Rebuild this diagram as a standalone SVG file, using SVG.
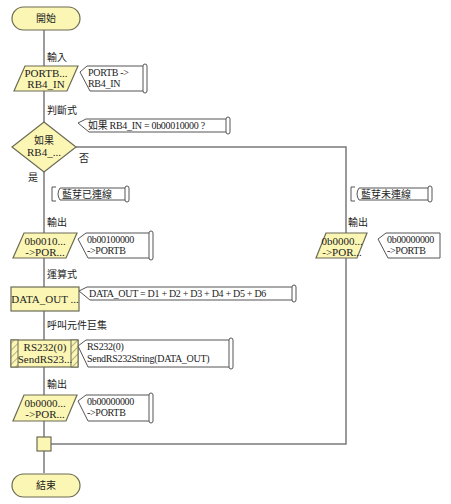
<svg xmlns="http://www.w3.org/2000/svg" width="451" height="504" viewBox="0 0 451 504">
  <style>
    .shape { fill: #fbf6b4; stroke: #6b6b55; stroke-width: 1.2; }
    .note { fill: #ffffff; stroke: #555555; stroke-width: 1; }
    .scroll { fill: #ffffff; stroke: #555555; stroke-width: 1; }
    .wire { fill: none; stroke: #7a7a7a; stroke-width: 1.5; }
    .lbl { font-family: "Noto Sans CJK TC", "Noto Sans CJK SC", sans-serif; font-size: 10px; fill: #222222; }
    .txt { font-family: "Liberation Serif", "Noto Sans CJK TC", serif; font-size: 11px; fill: #222222; text-anchor: middle; }
    .ntxt { font-family: "Liberation Serif", "Noto Sans CJK TC", serif; font-size: 10px; fill: #222222; letter-spacing: -0.3px; }
    .cjk { font-family: "Noto Sans CJK TC", "Noto Sans CJK SC", sans-serif; font-size: 10px; fill: #222222; }
  </style>
  <defs>
    <pattern id="hatch" patternUnits="userSpaceOnUse" width="5" height="5" patternTransform="rotate(45)">
      <rect width="5" height="5" fill="#fbf6b4"/>
      <line x1="0" y1="0" x2="0" y2="5" stroke="#6b6b55" stroke-width="1"/>
    </pattern>
  </defs>

  <!-- connectors -->
  <g id="connectors">
    <line class="wire" x1="44" y1="30" x2="44" y2="473"/>
    <polyline class="wire" points="76,147 346,147 346,444 51,444"/>
  </g>

  <!-- start -->
  <g id="start">
    <rect class="shape" x="12" y="7" width="68" height="23" rx="11.5"/>
    <text class="cjk" x="46" y="22" text-anchor="middle">開始</text>
  </g>

  <!-- input -->
  <g id="input">
    <text class="lbl" x="47" y="61">輸入</text>
    <polygon class="shape" points="25,66 78,66 67,91 14,91"/>
    <text class="txt" x="46" y="77">PORTB...</text>
    <text class="txt" x="46" y="88">RB4_IN</text>
    <path class="note" d="M87,66 L145,66 L145,91 L90,91 L80,72 Z"/>
    <rect class="scroll" x="143" y="64" width="4" height="29" rx="2"/>
    <text class="ntxt" x="88" y="76">PORTB -&gt;</text>
    <text class="ntxt" x="88" y="87">RB4_IN</text>
  </g>

  <!-- decision -->
  <g id="decision">
    <text class="lbl" x="47" y="114">判斷式</text>
    <path class="note" d="M86,119 L228,119 L228,132 L89,132 L78,123 Z"/>
    <rect class="scroll" x="226" y="117" width="4" height="17" rx="2"/>
    <text class="ntxt" x="88" y="129">如果 RB4_IN = 0b00010000 ?</text>
    <polygon class="shape" points="44,122 76,147 44,172 12,147"/>
    <text class="cjk" x="44" y="144" text-anchor="middle">如果</text>
    <text class="txt" x="44" y="156">RB4_...</text>
    <text class="lbl" x="79" y="162">否</text>
    <text class="lbl" x="28" y="181">是</text>
  </g>

  <!-- comment: connected -->
  <g id="note-yes">
    <path class="wire" d="M56,187 L52,187 L52,201 L56,201" style="stroke:#555555;stroke-width:1"/>
    <path class="note" d="M60,188 L127,188 L127,200 L60,200 Q56,194 60,188 Z"/>
    <rect class="scroll" x="125" y="186" width="4" height="16" rx="2"/>
    <text class="cjk" x="62" y="198">藍芽已連線</text>
  </g>

  <!-- output 1 -->
  <g id="output1">
    <text class="lbl" x="47" y="226">輸出</text>
    <polygon class="shape" points="24,233 77,233 66,258 13,258"/>
    <text class="txt" x="45" y="245">0b0010...</text>
    <text class="txt" x="45" y="256">-&gt;POR...</text>
    <path class="note" d="M86,233 L151,233 L151,258 L88,258 L78,239 Z"/>
    <rect class="scroll" x="149" y="231" width="4" height="29" rx="2"/>
    <text class="ntxt" x="87" y="243">0b00100000</text>
    <text class="ntxt" x="87" y="254">-&gt;PORTB</text>
  </g>

  <!-- calculation -->
  <g id="calc">
    <text class="lbl" x="47" y="278">運算式</text>
    <rect class="shape" x="11" y="287" width="68" height="24"/>
    <text class="txt" x="45" y="303">DATA_OUT ...</text>
    <path class="note" d="M87,287 L294,287 L294,300 L90,300 L79,291 Z"/>
    <rect class="scroll" x="292" y="285" width="4" height="17" rx="2"/>
    <text class="ntxt" x="89" y="297">DATA_OUT = D1 + D2 + D3 + D4 + D5 + D6</text>
  </g>

  <!-- macro call -->
  <g id="macro">
    <text class="lbl" x="47" y="329">呼叫元件巨集</text>
    <rect class="shape" x="11" y="340" width="67" height="27"/>
    <rect x="11" y="340" width="7" height="27" fill="url(#hatch)" stroke="#6b6b55" stroke-width="1"/>
    <rect x="71" y="340" width="7" height="27" fill="url(#hatch)" stroke="#6b6b55" stroke-width="1"/>
    <text class="txt" x="45" y="351">RS232(0)</text>
    <text class="txt" x="45" y="363">SendRS23...</text>
    <path class="note" d="M86,340 L231,340 L231,367 L88,367 L78,346 Z"/>
    <rect class="scroll" x="229" y="338" width="4" height="31" rx="2"/>
    <text class="ntxt" x="87" y="350">RS232(0)</text>
    <text class="ntxt" x="87" y="362">SendRS232String(DATA_OUT)</text>
  </g>

  <!-- output 2 -->
  <g id="output2">
    <text class="lbl" x="47" y="388">輸出</text>
    <polygon class="shape" points="24,395 77,395 66,421 13,421"/>
    <text class="txt" x="45" y="407">0b0000...</text>
    <text class="txt" x="45" y="418">-&gt;POR...</text>
    <path class="note" d="M86,395 L151,395 L151,421 L88,421 L78,401 Z"/>
    <rect class="scroll" x="149" y="393" width="4" height="30" rx="2"/>
    <text class="ntxt" x="87" y="405">0b00000000</text>
    <text class="ntxt" x="87" y="416">-&gt;PORTB</text>
  </g>

  <!-- junction -->
  <g id="junction">
    <rect class="shape" x="37" y="437" width="14" height="14"/>
  </g>

  <!-- end -->
  <g id="end">
    <rect class="shape" x="12" y="474" width="68" height="23" rx="11.5"/>
    <text class="cjk" x="46" y="489" text-anchor="middle">結束</text>
  </g>

  <!-- comment: not connected -->
  <g id="note-no">
    <path class="wire" d="M355,187 L351,187 L351,201 L355,201" style="stroke:#555555;stroke-width:1"/>
    <path class="note" d="M359,188 L430,188 L430,200 L359,200 Q355,194 359,188 Z"/>
    <rect class="scroll" x="428" y="186" width="4" height="16" rx="2"/>
    <text class="cjk" x="361" y="198">藍芽未連線</text>
  </g>

  <!-- output on the else branch -->
  <g id="output3">
    <text class="lbl" x="348" y="226">輸出</text>
    <polygon class="shape" points="326,233 367,233 357,258 316,258"/>
    <text class="txt" x="342" y="245">0b0000...</text>
    <text class="txt" x="342" y="256">-&gt;POR...</text>
    <path class="note" d="M386,233 L440,233 L440,258 L388,258 L378,239 Z"/>
    <text class="ntxt" x="387" y="243">0b00000000</text>
    <text class="ntxt" x="387" y="254">-&gt;PORTB</text>
  </g>
</svg>
